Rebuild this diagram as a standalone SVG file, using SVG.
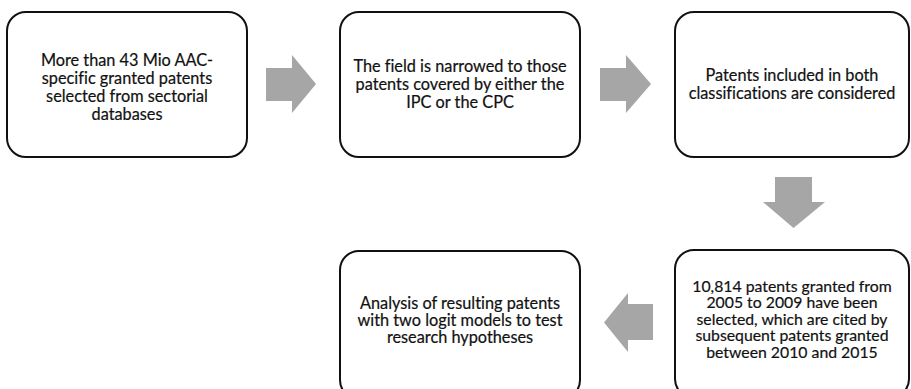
<svg xmlns="http://www.w3.org/2000/svg" width="911" height="389" viewBox="0 0 911 389">
<style>
.box{fill:#fff;stroke:#111;stroke-width:2}
.t{font-family:Lato,"Open Sans","DejaVu Sans",sans-serif;font-size:16.3px;font-weight:normal;fill:#111;stroke:#111;stroke-width:0.2;text-anchor:middle;font-variant-ligatures:none}
.s{font-size:15.8px}
.arr{fill:#a6a6a6}
</style>
<rect width="911" height="389" fill="#fff"/>
<g id="connectors">
<polygon class="arr" points="266,68 292,68 292,55 316,84 292,113 292,101 266,101"/>
<polygon class="arr" points="600,68 626,68 626,55 651,84 626,113 626,101 600,101"/>
<polygon class="arr" points="775,177 812,177 812,202 825,202 793.5,228 763,202 775,202"/>
<polygon class="arr" points="604,322.5 628,293 628,304 653,304 653,340 628,340 628,352"/>
</g>
<g id="n1">
<rect class="box" x="7" y="12" width="240" height="145" rx="19"/>
<text class="t"><tspan x="127" y="66">More than 43 Mio AAC-</tspan><tspan x="127" dy="18">specific granted patents</tspan><tspan x="127" dy="18">selected from sectorial</tspan><tspan x="127" dy="18">databases</tspan></text>
</g>
<g id="n2">
<rect class="box" x="340" y="12" width="240" height="145" rx="19"/>
<text class="t"><tspan x="460" y="72">The field is narrowed to those</tspan><tspan x="460" dy="18">patents covered by either the</tspan><tspan x="460" dy="18">IPC or the CPC</tspan></text>
</g>
<g id="n3">
<rect class="box" x="675" y="12" width="234" height="145" rx="19"/>
<text class="t"><tspan x="792" y="81">Patents included in both</tspan><tspan x="792" dy="18">classifications are considered</tspan></text>
</g>
<g id="n4">
<rect class="box" x="675" y="250" width="234" height="148" rx="19"/>
<text class="t s"><tspan x="792" y="291.5">10,814 patents granted from</tspan><tspan x="792" dy="16.5">2005 to 2009 have been</tspan><tspan x="792" dy="16.5">selected, which are cited  by</tspan><tspan x="792" dy="16.5">subsequent patents granted</tspan><tspan x="792" dy="16.5">between 2010 and 2015</tspan></text>
</g>
<g id="n5">
<rect class="box" x="340" y="251" width="240" height="148" rx="19"/>
<text class="t"><tspan x="460" y="309">Analysis of resulting patents</tspan><tspan x="460" dy="17">with two logit models to test</tspan><tspan x="460" dy="17">research hypotheses</tspan></text>
</g>
</svg>
